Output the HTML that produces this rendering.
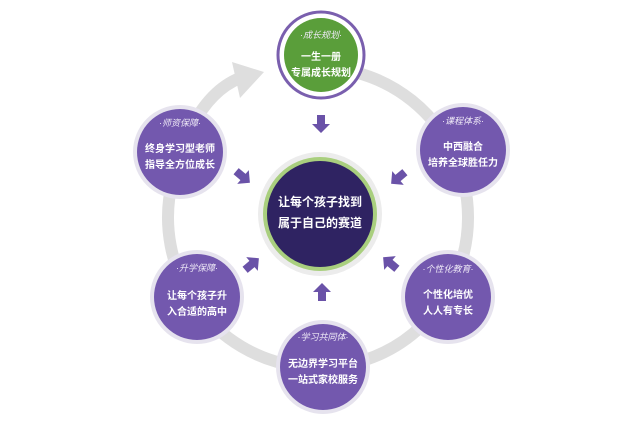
<!DOCTYPE html>
<html><head><meta charset="utf-8"><style>
body{margin:0;background:#fff;}
svg{display:block;font-family:"Liberation Sans","Noto Sans CJK SC",sans-serif;}
.t{fill:#fff;font-weight:bold;font-size:10px;text-anchor:middle;}
.s{fill:#efeaf7;font-size:9px;text-anchor:middle;font-style:italic;}
</style></head><body>
<svg width="641" height="424" viewBox="0 0 641 424">
<defs>
<g id="arr"><polygon points="-4,-9 4,-9 4,0 9,0 0,9 -9,0 -4,0" fill="#6a52a8"/></g>
</defs>
<path d="M 358 73 A 150 150 0 1 1 200 125" fill="none" stroke="#dedede" stroke-width="12"/>
<path d="M 190 130 Q 210 90 240 78" fill="none" stroke="#dedede" stroke-width="12"/>
<polygon points="232,62 264,72 240,98" fill="#dedede"/>
<use href="#arr" transform="translate(321,124)"/>
<use href="#arr" transform="translate(243,177) rotate(-50)"/>
<use href="#arr" transform="translate(398,178) rotate(50)"/>
<use href="#arr" transform="translate(252,264) rotate(-130)"/>
<use href="#arr" transform="translate(390,263) rotate(130)"/>
<use href="#arr" transform="translate(322,292) rotate(180)"/>
<circle cx="320" cy="214" r="62" fill="#ececec"/>
<circle cx="320" cy="214" r="57" fill="#a9cf7e"/>
<circle cx="320" cy="214" r="53" fill="#2f2362"/>
<text class="t" x="320" y="206" style="font-size:12px">让每个孩子找到</text>
<text class="t" x="320" y="227" style="font-size:12px">属于自己的赛道</text>
<circle cx="321" cy="55" r="43" fill="#fff" stroke="#7a5fae" stroke-width="3"/>
<circle cx="321" cy="55" r="37" fill="#5a9e3a"/>
<text class="s" x="321" y="38">·成长规划·</text>
<text class="t" x="321" y="60">一生一册</text>
<text class="t" x="321" y="76">专属成长规划</text>
<g>
<circle cx="180" cy="152" r="47" fill="#e6e3ee"/><circle cx="180" cy="152" r="43" fill="#7358ae"/>
<text class="s" x="180" y="126">·师资保障·</text>
<text class="t" x="180" y="152">终身学习型老师</text>
<text class="t" x="180" y="168">指导全方位成长</text>
</g>
<g>
<circle cx="463" cy="150" r="47" fill="#e6e3ee"/><circle cx="463" cy="150" r="43" fill="#7358ae"/>
<text class="s" x="463" y="124">·课程体系·</text>
<text class="t" x="463" y="150">中西融合</text>
<text class="t" x="463" y="166">培养全球胜任力</text>
</g>
<g>
<circle cx="197" cy="297" r="47" fill="#e6e3ee"/><circle cx="197" cy="297" r="43" fill="#7358ae"/>
<text class="s" x="197" y="271">·升学保障·</text>
<text class="t" x="197" y="299">让每个孩子升</text>
<text class="t" x="197" y="315">入合适的高中</text>
</g>
<g>
<circle cx="448" cy="297" r="47" fill="#e6e3ee"/><circle cx="448" cy="297" r="43" fill="#7358ae"/>
<text class="s" x="448" y="272">·个性化教育·</text>
<text class="t" x="448" y="298">个性化培优</text>
<text class="t" x="448" y="314">人人有专长</text>
</g>
<g>
<circle cx="323" cy="367" r="47" fill="#e6e3ee"/><circle cx="323" cy="367" r="43" fill="#7358ae"/>
<text class="s" x="323" y="340">·学习共同体·</text>
<text class="t" x="323" y="367">无边界学习平台</text>
<text class="t" x="323" y="383">一站式家校服务</text>
</g>
</svg>
</body></html>
